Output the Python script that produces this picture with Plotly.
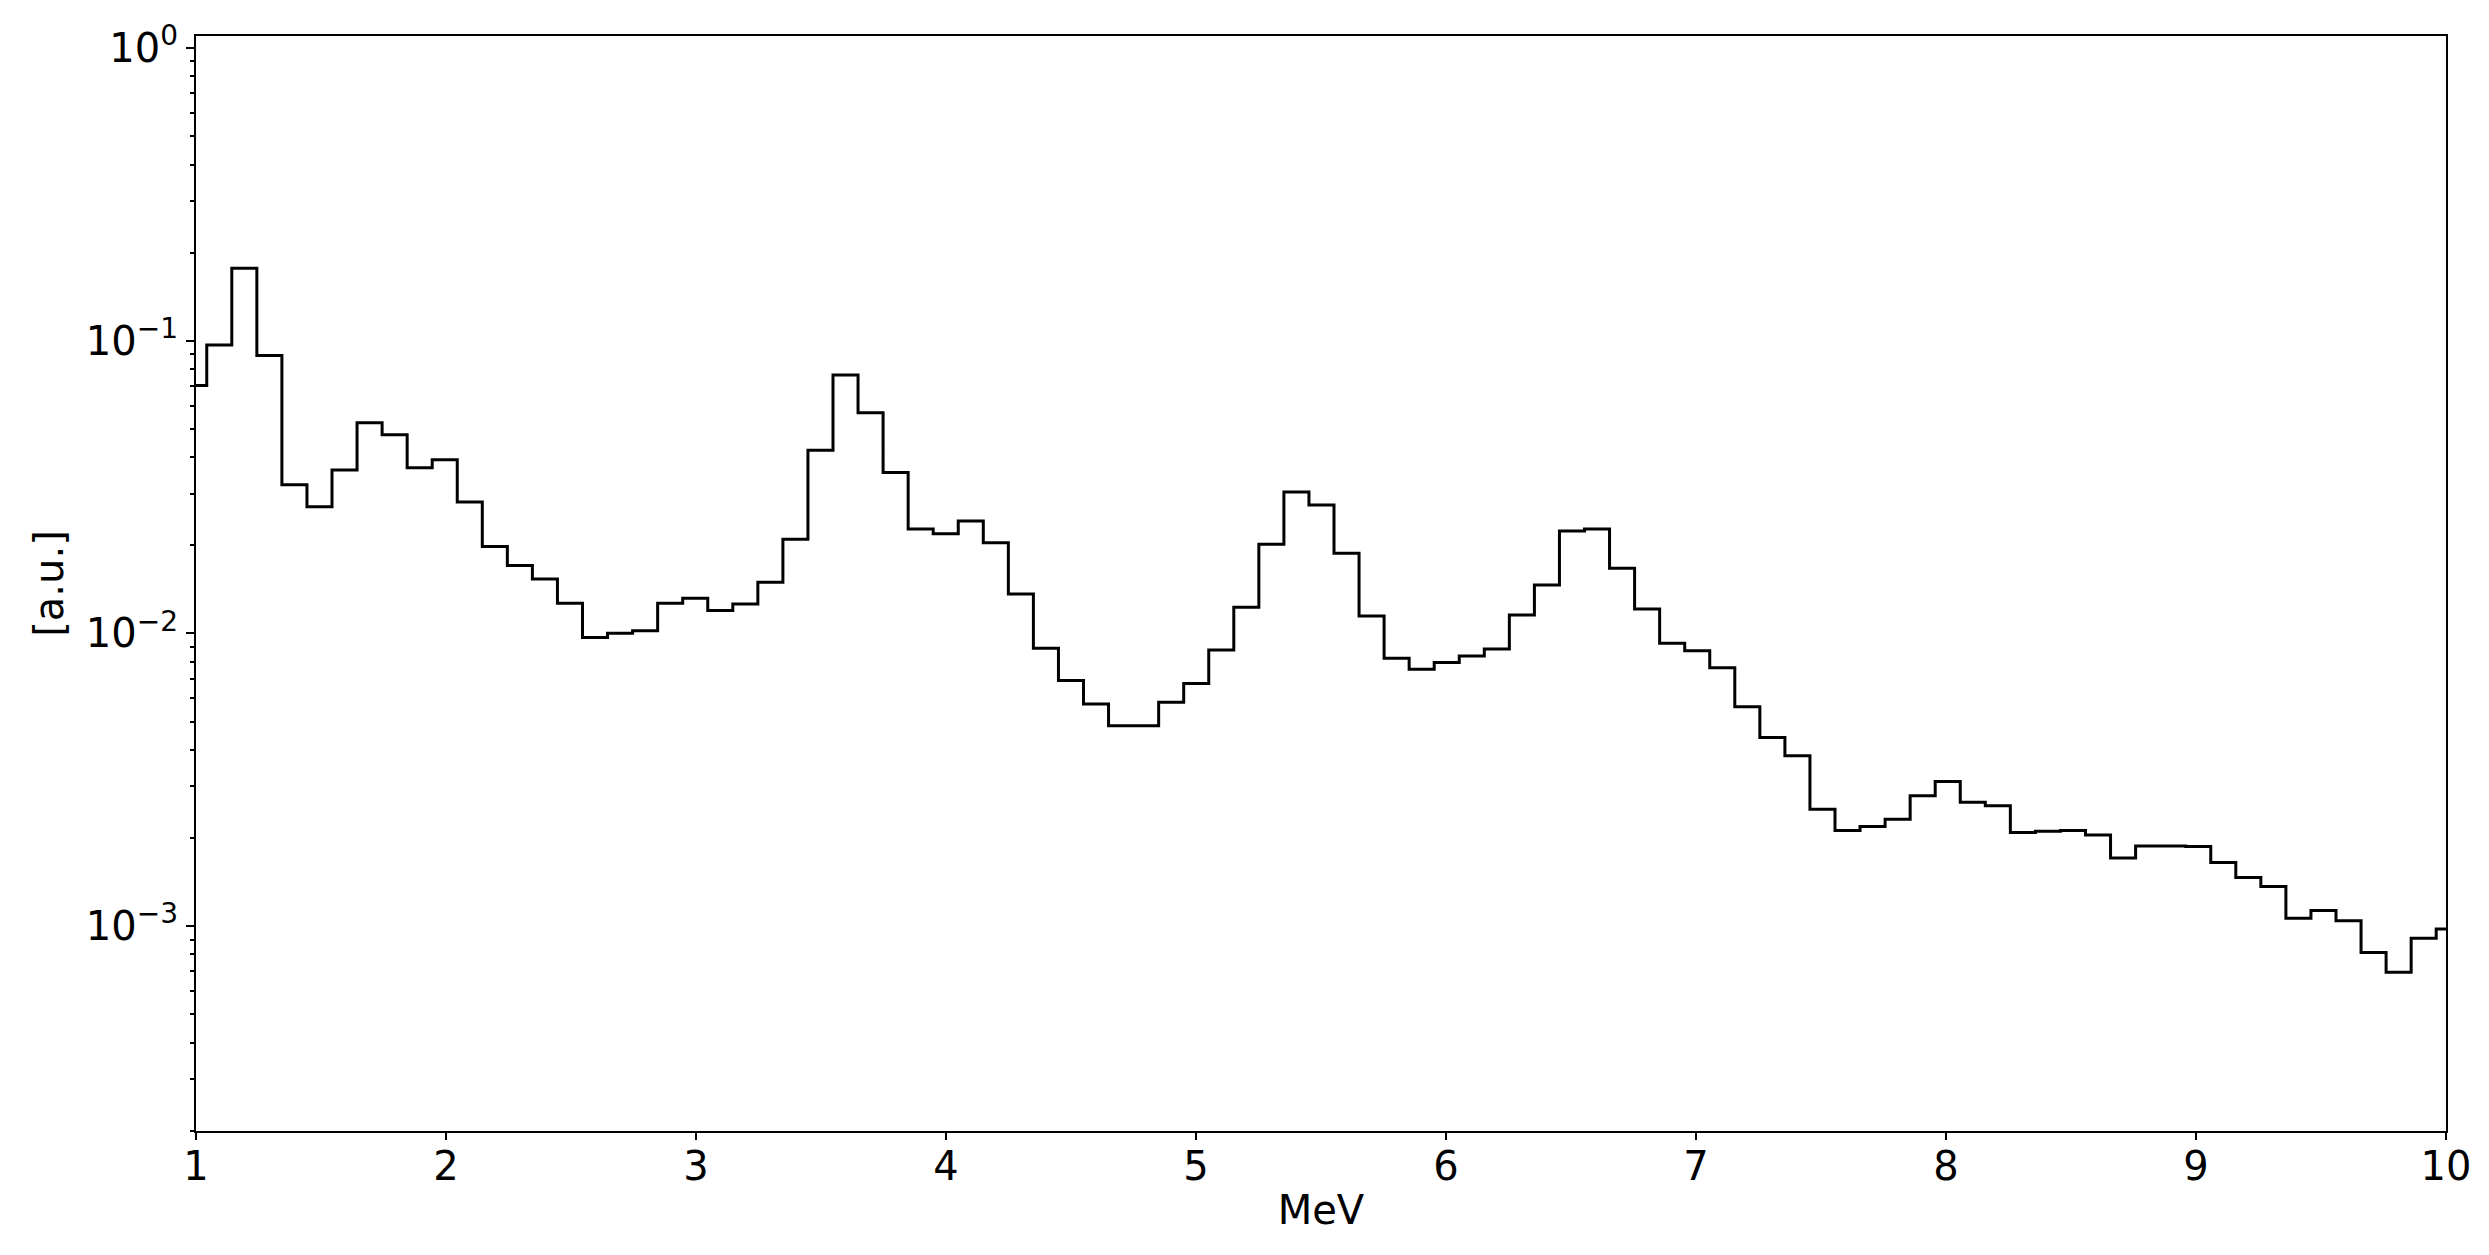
import plotly.graph_objects as go
import numpy as np

# Histogram bin contents (arbitrary units), bin width ~0.1 MeV
bin_start = 0.9428
bin_width = 0.1002
values = [
    0.0703, 0.0968, 0.1769, 0.0890, 0.0322, 0.0271, 0.0362, 0.0525, 0.0477, 0.0368,
    0.0392, 0.0281, 0.0198, 0.01705, 0.01536, 0.01268, 0.00968, 0.01002, 0.01022, 0.01268,
    0.01319, 0.01197, 0.01261, 0.01496, 0.02099, 0.0423, 0.0764, 0.0568, 0.0355, 0.02275,
    0.0219, 0.02423, 0.02042, 0.01365, 0.0089, 0.0069, 0.00574, 0.00484, 0.00484, 0.00582,
    0.00674, 0.00878, 0.01229, 0.02017, 0.03044, 0.02748, 0.01879, 0.01147, 0.00823, 0.00754,
    0.00795, 0.00838, 0.00885, 0.01157, 0.01464, 0.0224, 0.02275, 0.0167, 0.01213, 0.00926,
    0.00872, 0.00764, 0.00562, 0.00441, 0.00382, 0.00251, 0.00212, 0.00219, 0.00232, 0.00279,
    0.00312, 0.00265, 0.00258, 0.00209, 0.00211, 0.00212, 0.00205, 0.00171, 0.00188, 0.00188,
    0.00187, 0.00165, 0.001465, 0.001365, 0.001064, 0.00113, 0.001044, 0.000812, 0.000696, 0.000909,
    0.000978,
]
x_ticks = [1, 2, 3, 4, 5, 6, 7, 8, 9, 10]
y_ticks = [1e-3, 1e-2, 1e-1, 1e0]
y_ticktext = ["10<sup>\u22123</sup>", "10<sup>\u22122</sup>", "10<sup>\u22121</sup>", "10<sup>0</sup>"]
x_label = "MeV"
y_label = "[a.u.]"

edges = bin_start + bin_width * np.arange(len(values) + 1)
y_step = values + [values[-1]]

minor_vals = [m * 10.0 ** e for e in range(-4, 1) for m in range(2, 10)]

fig = go.Figure()
fig.add_trace(go.Scatter(
    x=edges, y=y_step, mode="lines", line=dict(shape="hv", color="black", width=3),
    showlegend=False,
))

font = dict(family="DejaVu Sans", size=40, color="black")

# page body has an 8px default margin: size figure so the plot area lands where the reference has it
fig.update_layout(
    width=2481, height=1247,
    margin=dict(l=188, r=43, t=28, b=124, autoexpand=False),
    paper_bgcolor="white", plot_bgcolor="white",
    font=font,
)
fig.update_xaxes(
    range=[1, 10], tickvals=x_ticks, ticktext=[str(t) for t in x_ticks],
    showgrid=False, zeroline=False, automargin=False,
    showline=True, linecolor="black", linewidth=2, mirror=True,
    ticks="outside", ticklen=7, tickwidth=2, tickcolor="black",
    ticklabelstandoff=-8,
    tickfont=font,
    title=dict(text=x_label, font=font, standoff=8),
)
fig.update_yaxes(
    type="log", range=[-3.70, 0.0413],
    tickvals=y_ticks, ticktext=y_ticktext,
    showgrid=False, zeroline=False, automargin=False,
    showline=True, linecolor="black", linewidth=2, mirror=True,
    ticks="outside", ticklen=8, tickwidth=2, tickcolor="black",
    tickfont=font,
    minor=dict(tickvals=minor_vals, ticks="outside", ticklen=4, tickwidth=1.5, tickcolor="black", showgrid=False),
    title=dict(text=y_label, font=font, standoff=10),
)

fig.write_html("out.html")
